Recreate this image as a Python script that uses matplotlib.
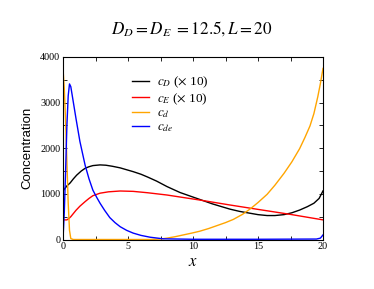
import matplotlib
matplotlib.use("Agg")
import matplotlib.pyplot as plt
from matplotlib.ticker import MultipleLocator

plt.rcParams['mathtext.fontset'] = 'stix'
plt.rcParams['font.family'] = 'Liberation Serif'

# values
x_cD = [0, 0.15, 0.3, 0.55, 0.8, 1.05, 1.4, 1.7, 2.0, 2.3, 2.85, 3.3, 3.8, 4.4, 5.0, 5.4, 6.0,
        6.5, 7.2, 8.0, 9.0, 10.3, 11.5, 12.2, 12.85, 13.6, 14.4, 15.0, 15.7, 16.3, 17.0, 17.6,
        18.2, 18.8, 19.3, 19.7, 20]
cD = [1060, 1120, 1175, 1240, 1330, 1410, 1500, 1560, 1595, 1620, 1635, 1628, 1605, 1570, 1520,
      1487, 1430, 1370, 1280, 1160, 1030, 900, 780, 720, 665, 615, 575, 545, 525, 525, 545, 585,
      645, 720, 795, 900, 1065]

x_cE = [0, 0.3, 0.45, 0.6, 0.8, 1.0, 1.3, 1.7, 2.0, 2.3, 2.85, 3.5, 4.4, 5.4, 6.5, 8.0, 10.5,
        12.85, 15, 17.5, 20]
cE = [430, 430, 460, 500, 570, 640, 730, 830, 900, 960, 1015, 1045, 1063, 1055, 1025, 975, 866,
      756, 660, 550, 430]

x_cd = [0, 0.1, 0.2, 0.3, 0.4, 0.5, 0.6, 0.8, 6.7, 7.5, 8.0, 8.6, 9.25, 9.9, 10.5, 11.2, 11.8,
        12.5, 13.1, 13.8, 14.4, 15.0, 15.7, 16.3, 17.0, 17.6, 18.2, 18.6, 19.0, 19.3, 19.6, 19.8, 20]
cd = [3750, 3300, 2600, 1700, 800, 200, 20, 0, 0, 10, 30, 60, 100, 140, 180, 240, 300,
      370, 440, 550, 670, 810, 990, 1190, 1450, 1700, 1990, 2230, 2490, 2760, 3130, 3420, 3750]

x_cde = [0, 0.1, 0.2, 0.3, 0.4, 0.5, 0.6, 0.8, 1.0, 1.3, 1.7, 2.0, 2.3, 2.6, 2.85, 3.2, 3.6, 4.0,
         4.4, 4.9, 5.4, 6.0, 6.7, 7.7, 10, 15, 19.5, 19.8, 20]
cde = [0, 600, 1500, 2500, 3150, 3410, 3350, 3000, 2650, 2150, 1630, 1330, 1080, 920, 795, 640,
       480, 370, 280, 200, 140, 90, 50, 15, 5, 5, 10, 30, 100]

fig = plt.figure(figsize=(3.74, 2.89), dpi=100)
ax = fig.add_axes([63/374, 1-239.5/289, 260/374, 182.5/289])

ax.plot(x_cD, cD, color='black', lw=1.0, label=r'$c_D$ ($\times$ 10)')
ax.plot(x_cE, cE, color='red', lw=1.0, label=r'$c_E$ ($\times$ 10)')
ax.plot(x_cd, cd, color='orange', lw=1.0, label=r'$c_d$')
ax.plot(x_cde, cde, color='blue', lw=1.0, label=r'$c_{de}$')

ax.set_xlim(0, 20)
ax.set_ylim(0, 4000)
ax.xaxis.set_major_locator(MultipleLocator(5))
ax.xaxis.set_minor_locator(MultipleLocator(2.5))
ax.yaxis.set_major_locator(MultipleLocator(1000))
ax.yaxis.set_minor_locator(MultipleLocator(500))
ax.tick_params(which='both', direction='in', top=True, right=True, length=3, width=0.6,
               labelsize=7.3, pad=2)
for s in ax.spines.values():
    s.set_linewidth(0.8)

ax.set_xlabel(r'$x$', fontsize=12, labelpad=2)
ax.set_ylabel('Concentration', fontsize=9.5, family='Liberation Sans', labelpad=5)
fig.text(0.513, 0.9, r'$D_D = D_E\ = 12.5, L = 20$', ha='center', va='center', fontsize=12.3)

ax.legend(loc='upper left', bbox_to_anchor=(0.245, 0.93), frameon=False, fontsize=9.5,
          handlelength=1.3, handletextpad=0.6, labelspacing=0.05, borderaxespad=0)

fig.savefig('out.png', dpi=100)
